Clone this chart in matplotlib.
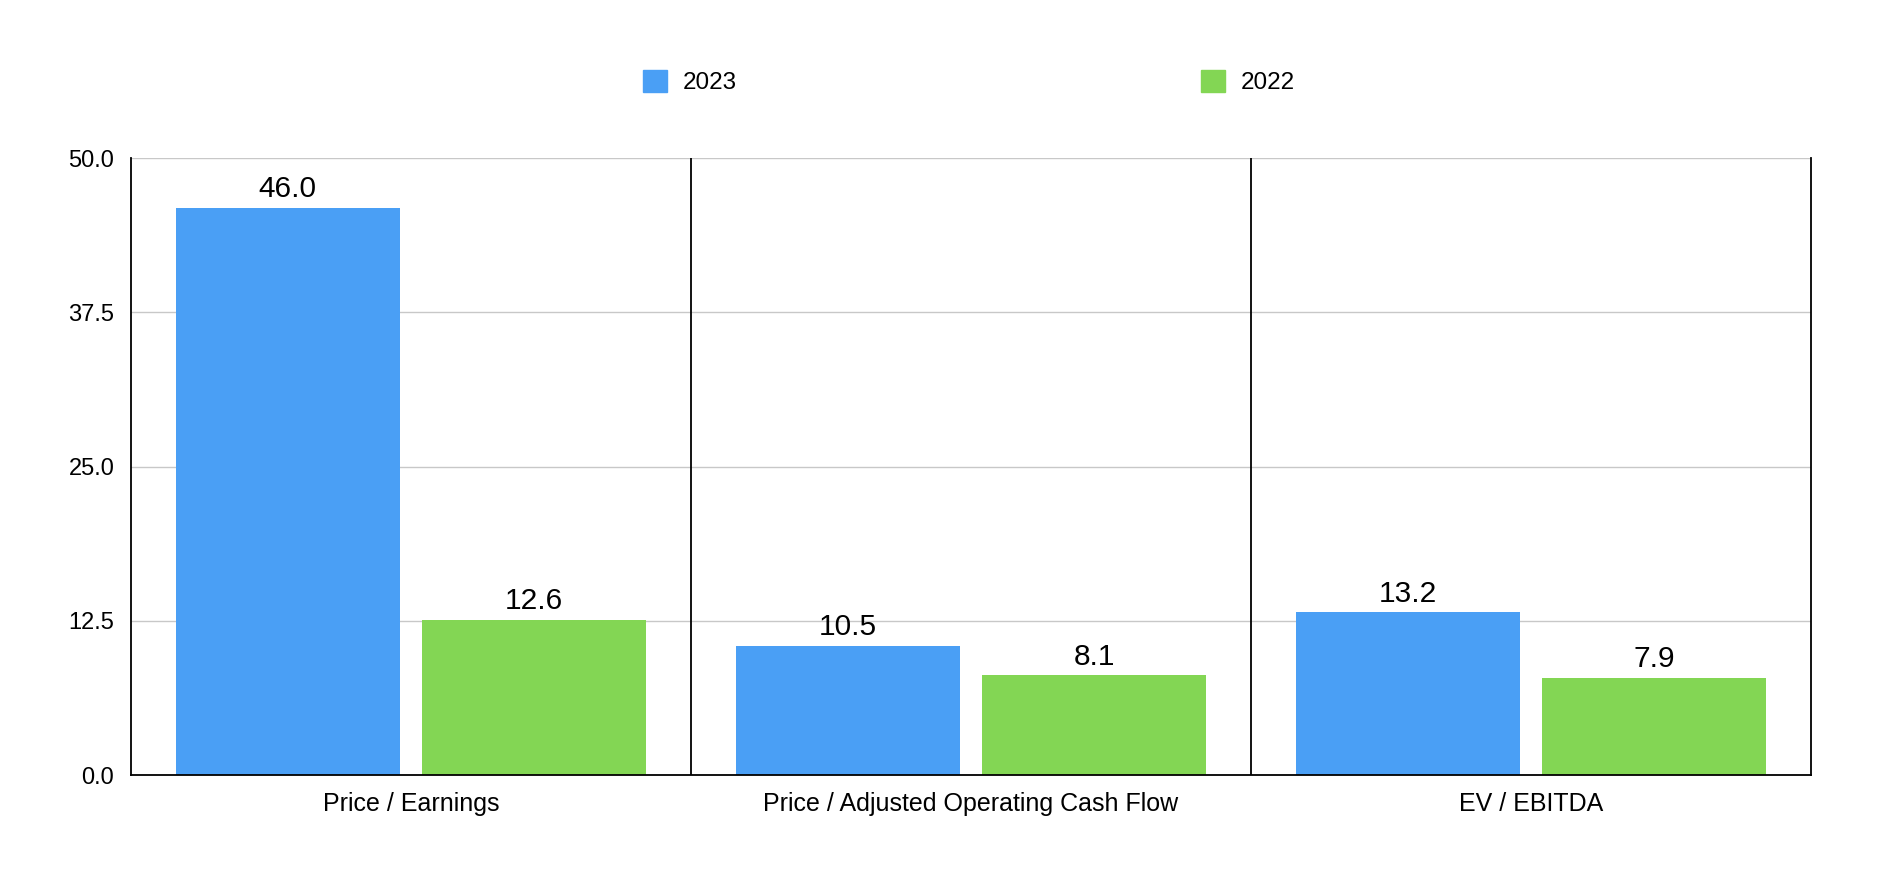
import matplotlib.pyplot as plt
import numpy as np
from matplotlib.patches import Patch

plt.rcParams['font.family'] = ['Liberation Sans', 'DejaVu Sans']

# data
categories = ['Price / Earnings', 'Price / Adjusted Operating Cash Flow', 'EV / EBITDA']
series_names = ['2023', '2022']
values_2023 = [46.0, 10.5, 13.2]
values_2022 = [12.6, 8.1, 7.9]
yticks = [0.0, 12.5, 25.0, 37.5, 50.0]

blue = '#4A9FF5'
green = '#83D654'

fig = plt.figure(figsize=(18.98, 8.94), dpi=100)
ax = fig.add_axes([0.069, 0.133, 0.885, 0.690])

x = np.arange(len(categories))
w = 0.4
b1 = ax.bar(x - 0.22, values_2023, width=w, color=blue, zorder=3)
b2 = ax.bar(x + 0.22, values_2022, width=w, color=green, zorder=3)

for bars, vals in [(b1, values_2023), (b2, values_2022)]:
    for r, v in zip(bars, vals):
        ax.annotate(f'{v:.1f}', (r.get_x() + r.get_width() / 2, v),
                    xytext=(0, 3), textcoords='offset points',
                    ha='center', va='bottom', fontsize=21.5)

ax.set_xlim(-0.5, len(categories) - 0.5)
ax.set_ylim(0, 50)
ax.set_yticks(yticks)
ax.set_yticklabels([f'{t:.1f}' for t in yticks])
ax.set_xticks(x)
ax.set_xticklabels(categories)
ax.tick_params(axis='both', length=0)
ax.tick_params(axis='y', pad=12, labelsize=17)
ax.tick_params(axis='x', pad=12, labelsize=18)

ax.grid(axis='y', color='#c8c8c8', linewidth=1, zorder=0)
for xv in x[:-1] + 0.5:
    ax.axvline(xv, color='black', linewidth=1.3, zorder=4)

ax.spines['top'].set_visible(False)
for s in ['left', 'right', 'bottom']:
    ax.spines[s].set_color('black')
    ax.spines[s].set_linewidth(1.3)
ax.spines['bottom'].set_zorder(5)

handles = [Patch(color=blue), Patch(color=green)]
fig.legend(handles, series_names, loc='center', bbox_to_anchor=(0.5105, 0.908),
           ncol=2, frameon=False, fontsize=17.5, handlelength=0.99,
           handleheight=0.99, handletextpad=0.66, columnspacing=19.1,
           borderpad=0)

fig.savefig('out.png', dpi=100)
